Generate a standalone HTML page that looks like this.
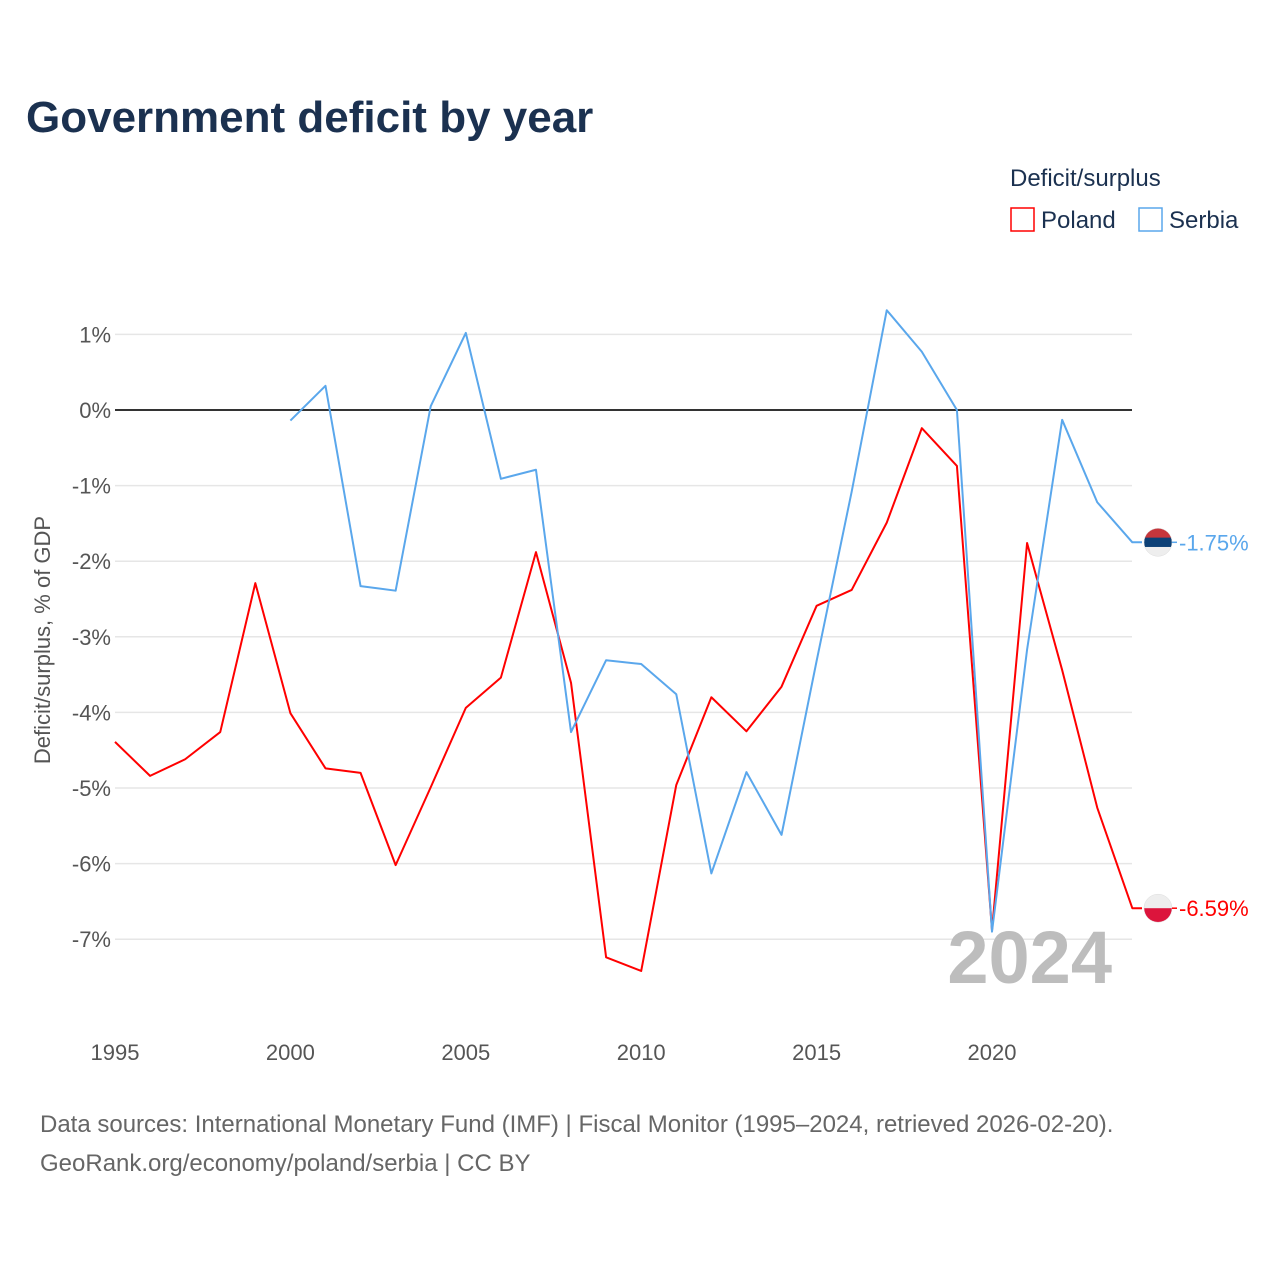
<!DOCTYPE html>
<html><head><meta charset="utf-8"><style>
body{margin:0;background:#fff;font-family:"Liberation Sans",sans-serif;}
svg text{font-family:"Liberation Sans",sans-serif;}
</style></head><body>
<svg id="chart" width="1280" height="1280">
<defs>
<clipPath id="cpl"><circle cx="1158" cy="908" r="14"/></clipPath>
<clipPath id="csr"><circle cx="1158" cy="542" r="14"/></clipPath>
</defs>
<text x="26" y="132" font-size="44" font-weight="bold" fill="#1b3150">Government deficit by year</text>
<text x="1010" y="186" font-size="24" fill="#1b3150">Deficit/surplus</text>
<g><rect x="1011" y="208" width="23" height="23" fill="none" stroke="#f00" stroke-width="1.5"/><text x="1041" y="228" font-size="24" fill="#1b3150">Poland</text></g>
<g><rect x="1139" y="208" width="23" height="23" fill="none" stroke="#5aa7ec" stroke-width="1.5"/><text x="1169" y="228" font-size="24" fill="#1b3150">Serbia</text></g>
<text transform="translate(50,640) rotate(-90)" text-anchor="middle" font-size="22" fill="#555">Deficit/surplus, % of GDP</text>
<g id="grid"></g><g id="xt"></g><g id="series"></g>
<text x="1112" y="983" text-anchor="end" font-size="74" font-weight="bold" fill="#bdbdbd">2024</text>
<text x="40" y="1132" font-size="24" fill="#666">Data sources: International Monetary Fund (IMF) | Fiscal Monitor (1995–2024, retrieved 2026-02-20).</text>
<text x="40" y="1171" font-size="24" fill="#666">GeoRank.org/economy/poland/serbia | CC BY</text>
</svg>
<script>
const years=[];for(let y=1995;y<=2024;y++)years.push(y);
const poland=[-4.39,-4.84,-4.62,-4.26,-2.29,-4.01,-4.74,-4.80,-6.02,-4.99,-3.94,-3.54,-1.88,-3.61,-7.24,-7.42,-4.96,-3.80,-4.25,-3.66,-2.59,-2.38,-1.49,-0.24,-0.74,-6.88,-1.76,-3.44,-5.26,-6.59];
const serbia=[null,null,null,null,null,-0.14,0.32,-2.33,-2.39,0.05,1.02,-0.91,-0.79,-4.26,-3.31,-3.36,-3.76,-6.13,-4.79,-5.62,-3.32,-1.08,1.32,0.77,0.0,-6.9,-3.17,-0.13,-1.22,-1.75];
const yTicks=[1,0,-1,-2,-3,-4,-5,-6,-7];
const xTicks=[1995,2000,2005,2010,2015,2020];
const X=y=>115+(y-1995)*35.08, Y=v=>410-v*75.6;
const NS="http://www.w3.org/2000/svg";
function mk(t,a,p){const e=document.createElementNS(NS,t);for(const k in a)e.setAttribute(k,a[k]);p.appendChild(e);return e;}
const g=document.getElementById('grid');
yTicks.forEach(v=>{
 const l=mk('line',{x1:115,x2:1132,y1:Y(v),y2:Y(v),stroke:v===0?'#333':'#e6e6e6','stroke-width':v===0?2:1.5},g);
 
 
 const t=mk('text',{x:111,y:Y(v)+8,'text-anchor':'end','font-size':22,fill:'#555'},g);t.textContent=v+'%';
 
 
});
const xt=document.getElementById('xt');
xTicks.forEach(v=>{const t=mk('text',{x:X(v),y:1060,'text-anchor':'middle','font-size':22,fill:'#555'},xt);t.textContent=v;
 
 });
const s=document.getElementById('series');
function draw(vals,col,name,lab,stripes){
 let d='';vals.forEach((v,i)=>{if(v===null)return;d+=(d?'L':'M')+X(years[i])+','+Y(v);});
 const last=vals[vals.length-1],ly=Y(last);
 d+='L1142,'+ly;
 const p=mk('path',{d:d,fill:'none',stroke:col,'stroke-width':2,'stroke-linejoin':'round'},s);
 
 
 const f=mk('g',{},s);
 
 
 const cp=document.createElementNS(NS,'clipPath');cp.setAttribute('id','c'+name);
 mk('circle',{cx:1158,cy:ly,r:14},cp);f.appendChild(cp);
 const h=28/stripes.length;
 stripes.forEach((c,i)=>mk('rect',{x:1144,y:ly-14+i*h,width:28,height:h+0.5,fill:c,'clip-path':'url(#c'+name+')'},f));
 mk('circle',{cx:1158,cy:ly,r:14,fill:'none',stroke:'#ddd','stroke-width':0.5},f);
 mk('line',{x1:1172,x2:1177,y1:ly,y2:ly,stroke:col,'stroke-width':1.5},s);
 const t=mk('text',{x:1179,y:ly+8,'font-size':22,fill:col},s);t.textContent=lab;
 
 
}
draw(poland,'#f00','poland-line','-6.59%',['#eeeeee','#dc143c']);
draw(serbia,'#5aa7ec','serbia-line','-1.75%',['#c6363c','#0c4076','#eeeeee']);
</script>
</body></html>
